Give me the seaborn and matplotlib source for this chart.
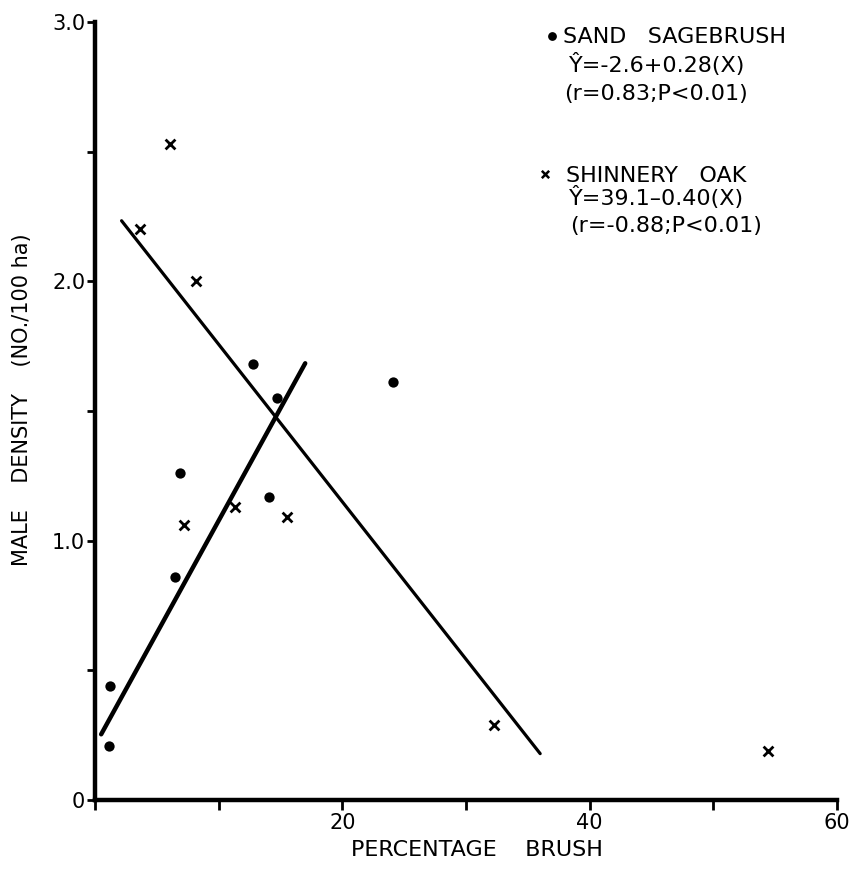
import numpy as np
import pandas as pd
import matplotlib
matplotlib.use("Agg")
import matplotlib.pyplot as plt
import seaborn as sns

# Sand sagebrush plots: percent brush cover vs. male density
sage_x = [1.1, 1.2, 6.5, 6.9, 12.8, 14.1, 14.7, 24.1]
sage_y = [0.21, 0.44, 0.86, 1.26, 1.68, 1.17, 1.55, 1.61]

# Shinnery oak plots
oak_x = [3.6, 6.1, 8.2, 7.2, 11.3, 15.5, 32.3, 54.4]
oak_y = [2.20, 2.53, 2.00, 1.06, 1.13, 1.09, 0.29, 0.19]

# Fitted regression lines in plotted units: (intercept, slope, x start, x end)
sage_fit = (0.21, 0.0867, 0.5, 17.0)
oak_fit = (2.364, -0.0607, 2.15, 36.0)

x_ticks = [0, 10, 20, 30, 40, 50, 60]
x_tick_labels = ["", "", "20", "", "40", "", "60"]
y_ticks = [0, 0.5, 1.0, 1.5, 2.0, 2.5, 3.0]
y_tick_labels = ["0", "", "1.0", "", "2.0", "", "3.0"]

sns.set_theme(style="white")
plt.rcParams["font.family"] = ["DejaVu Sans"]

fig = plt.figure(figsize=(8.58, 8.71), dpi=100)
ax = fig.add_axes([0.1107, 0.0815, 0.8648, 0.8933])

sage_df = pd.DataFrame({"brush": sage_x, "density": sage_y})
oak_df = pd.DataFrame({"brush": oak_x, "density": oak_y})

sns.scatterplot(data=sage_df, x="brush", y="density", ax=ax, marker="o",
                color="black", s=55, edgecolor="black", linewidth=0, zorder=3)
sns.scatterplot(data=oak_df, x="brush", y="density", ax=ax, marker="x",
                color="black", s=50, linewidth=2.0, zorder=3)

for (b0, b1, xa, xb), lw in ((sage_fit, 3.2), (oak_fit, 2.3)):
    xs = np.array([xa, xb])
    line_df = pd.DataFrame({"brush": xs, "density": b0 + b1 * xs})
    sns.lineplot(data=line_df, x="brush", y="density", ax=ax, color="black",
                 linewidth=lw, solid_capstyle="round", zorder=2)

ax.set_xlim(0, 60)
ax.set_ylim(0, 3.0)
ax.set_xticks(x_ticks)
ax.set_xticklabels(x_tick_labels)
ax.set_yticks(y_ticks)
ax.set_yticklabels(y_tick_labels)
ax.tick_params(axis="both", direction="out", width=2.0, bottom=True,
               left=True, color="black", labelsize=15, labelcolor="black")
ax.tick_params(axis="x", length=7, pad=2)
ax.tick_params(axis="y", length=6, pad=1)

for side in ("top", "right"):
    ax.spines[side].set_visible(False)
for side in ("left", "bottom"):
    ax.spines[side].set_linewidth(3.2)
    ax.spines[side].set_color("black")

ax.set_xlabel("PERCENTAGE    BRUSH", fontsize=16, color="black")
ax.xaxis.set_label_coords(0.515, -0.052)
ax.set_ylabel("MALE    DENSITY    (NO./100 ha)", fontsize=15, color="black")
ax.yaxis.set_label_coords(-0.085, 0.515)

# Key with regression equations
ax.scatter([0.6159], [0.9820], transform=ax.transAxes, marker="o", s=28,
           color="black", clip_on=False)
ax.scatter([0.6065], [0.8046], transform=ax.transAxes, marker="x", s=28,
           color="black", linewidth=1.8, clip_on=False)
key_lines = [
    (0.6307, 0.9730, "SAND   SAGEBRUSH"),
    (0.6388, 0.9357, "Ŷ=-2.6+0.28(X)"),
    (0.6320, 0.8997, "(r=0.83;P<0.01)"),
    (0.6348, 0.7943, "SHINNERY   OAK"),
    (0.6388, 0.7648, "Ŷ=39.1\u20130.40(X)"),
    (0.6400, 0.7301, "(r=-0.88;P<0.01)"),
]
for kx, ky, txt in key_lines:
    ax.text(kx, ky, txt, transform=ax.transAxes, fontsize=16, color="black",
            ha="left", va="baseline")

fig.savefig("out.png", dpi=100, facecolor="white")
